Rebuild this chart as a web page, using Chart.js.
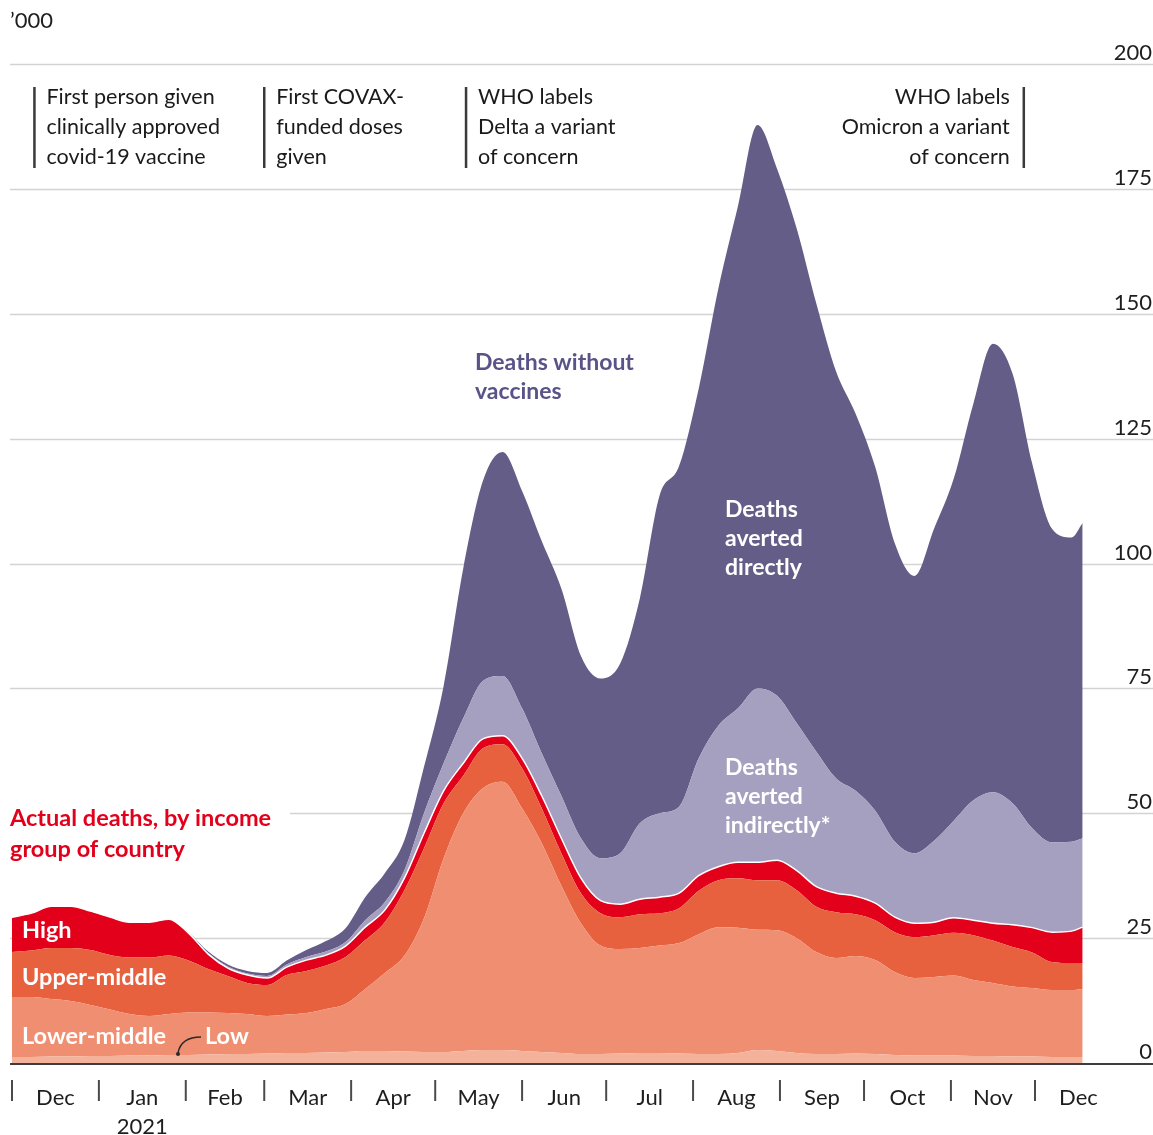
<!DOCTYPE html>
<html>
<head>
<meta charset="utf-8">
<script src="https://cdn.jsdelivr.net/npm/chart.js@4.4.0/dist/chart.umd.min.js"></script>
<style>
  html, body { margin: 0; padding: 0; background: #fff; }
  #wrap { width: 1153px; height: 1135px; }
</style>
</head>
<body>
<div id="wrap"><canvas id="chart" width="1153" height="1135"></canvas></div>
<script>
// weekly readings, days counted from 1 Dec 2020, values in '000 deaths
const days = [0,7,14,21,28,35,42,49,56,63,70,77,84,91,98,105,112,119,126,133,140,147,154,161,168,175,182,189,196,203,210,217,224,231,238,245,252,259,266,273,280,287,294,301,308,315,322,329,336,343,350,357,364,371,378,382];

const low = [1.2,1.2,1.3,1.3,1.4,1.4,1.5,1.5,1.6,1.6,1.7,1.8,1.8,1.9,2.0,2.0,2.1,2.2,2.4,2.4,2.3,2.2,2.2,2.4,2.6,2.6,2.4,2.2,2.0,1.8,1.8,1.9,2.0,2.0,1.9,1.8,1.8,2.0,2.6,2.4,2.0,1.8,1.8,1.9,1.8,1.6,1.5,1.5,1.5,1.4,1.4,1.3,1.3,1.2,1.2,1.2];
const lowerMiddle = [12.0,12.0,11.5,11.1,10.2,9.3,8.3,7.9,8.2,8.5,8.4,8.2,8.0,7.5,7.7,8.0,8.7,9.6,12.4,15.6,19.2,26.8,38.8,47.6,52.4,53.7,48.6,41.8,33.5,26.2,21.7,20.9,21.0,21.5,22.1,24.0,25.4,25.1,24.1,24.2,23.0,20.4,19.2,19.5,18.8,16.6,15.5,15.7,16.0,15.2,14.6,14.0,13.7,13.4,13.4,13.6];
const upperMiddle = [9.0,9.3,10.2,10.6,11.0,10.9,11.3,11.7,11.7,10.4,8.7,7.4,6.2,6.2,7.9,8.4,8.7,9.4,9.8,10.2,13.1,14.0,11.0,7.5,8.0,7.5,8.0,7.0,6.5,6.0,6.5,6.4,6.8,6.5,7.0,8.7,9.4,9.9,9.9,10.0,9.6,9.1,9.2,8.4,8.0,8.0,8.2,8.4,8.6,9.0,8.5,7.9,7.1,5.6,5.4,5.2];
const high = [7.0,7.5,8.4,8.4,7.8,7.6,7.1,7.1,7.3,5.5,3.0,1.6,1.6,1.4,1.6,2.2,2.1,2.2,2.6,2.4,2.4,3.0,2.5,2.5,1.9,1.7,2.0,2.5,3.0,3.0,2.5,2.6,3.0,3.2,3.0,3.0,2.7,3.2,3.6,4.0,3.9,4.0,3.8,3.6,3.4,3.0,2.8,2.6,3.0,3.0,3.5,4.5,5.0,6.0,6.4,7.2];
const avertedIndirectly = [0,0,0,0,0,0,0,0,0,0.1,0.2,0.3,0.3,0.4,0.5,0.6,0.7,0.8,1.4,1.6,1.6,4.0,5.5,9.0,11.6,12.0,10.0,8.5,8.5,8.0,8.5,10.2,15.2,16.8,17.3,23.5,28.2,30.8,34.8,32.9,29.5,27.0,23.0,21.1,18.5,15.1,14.0,16.3,19.4,24.0,26.2,24.3,19.9,18.0,17.9,17.8];
const avertedDirectly = [0,0,0,0,0,0,0,0,0,0.1,0.3,0.4,0.5,0.6,0.8,1.4,2.1,2.8,4.6,5.8,6.0,9.3,15.5,30,40,44.8,43.5,42.5,41.5,36.5,36,38,45,63.5,68.2,74,87.5,100.5,112.8,105.5,99,89.7,81.5,75.5,68.8,59.7,55.5,62.5,68.5,79.4,89.8,86,73,62.8,60.9,63.1];

const yTicks = [0,25,50,75,100,125,150,175,200];
const monthStarts = [0,31,62,90,121,151,182,212,243,274,304,335,365,396];
const monthLabels = ['Dec','Jan','Feb','Mar','Apr','May','Jun','Jul','Aug','Sep','Oct','Nov','Dec'];

const eventDays = [8, 90, 162, 361];
const eventText = [
  ['First person given', 'clinically approved', 'covid-19 vaccine'],
  ['First COVAX-', 'funded doses', 'given'],
  ['WHO labels', 'Delta a variant', 'of concern'],
  ['WHO labels', 'Omicron a variant', 'of concern']
];
const eventAlign = ['left', 'left', 'left', 'right'];

const FONT = 'Lato, "Open Sans", sans-serif';

function layer(label, values, color, fill) {
  return {
    label: label,
    data: days.map((d, i) => ({ x: d, y: values[i] })),
    backgroundColor: color,
    borderColor: color,
    borderWidth: 0,
    fill: fill,
    pointRadius: 0,
    cubicInterpolationMode: 'monotone'
  };
}

const datasets = [
  layer('Low', low, '#f5b29b', 'origin'),
  layer('Lower-middle', lowerMiddle, '#f08e71', '-1'),
  layer('Upper-middle', upperMiddle, '#e8613f', '-1'),
  layer('High', high, '#e2001a', '-1'),
  layer('Deaths averted indirectly', avertedIndirectly, '#a5a0bf', '-1'),
  layer('Deaths averted directly', avertedDirectly, '#645d87', '-1')
];
// thin white line on top of actual deaths
datasets[3].borderColor = '#ffffff';
datasets[3].borderWidth = 1.5;

function textLines(ctx, lines, x, y0, step) {
  lines.forEach((t, i) => ctx.fillText(t, x, y0 + i * step));
}

const decor = {
  id: 'decor',
  beforeDatasetsDraw(chart) {
    const { ctx, scales: { y }, chartArea } = chart;
    ctx.save();
    ctx.strokeStyle = '#d3d3d3';
    ctx.lineWidth = 1.5;
    yTicks.forEach(v => {
      if (v === 0) return;
      const py = Math.round(y.getPixelForValue(v)) + 0.5;
      ctx.beginPath();
      ctx.moveTo(v === 50 ? 290 : chartArea.left, py);
      ctx.lineTo(chartArea.right, py);
      ctx.stroke();
    });
    ctx.restore();
  },
  afterDatasetsDraw(chart) {
    const { ctx, scales: { x, y }, chartArea } = chart;
    ctx.save();

    // y tick labels, right aligned above each line
    ctx.fillStyle = '#1e1e1e';
    ctx.font = '22px ' + FONT;
    ctx.textAlign = 'right';
    ctx.textBaseline = 'alphabetic';
    yTicks.forEach(v => ctx.fillText(String(v), chartArea.right - 1, y.getPixelForValue(v) - 4));

    // zero line
    const y0 = y.getPixelForValue(0);
    ctx.strokeStyle = '#3d3d3d';
    ctx.lineWidth = 2;
    ctx.beginPath();
    ctx.moveTo(chartArea.left, y0 + 1);
    ctx.lineTo(chartArea.right, y0 + 1);
    ctx.stroke();

    // month ticks and labels
    ctx.strokeStyle = '#4a4a4a';
    ctx.lineWidth = 2;
    for (let i = 0; i < monthStarts.length - 1; i++) {
      const px = x.getPixelForValue(monthStarts[i]);
      ctx.beginPath();
      ctx.moveTo(px, y0 + 17);
      ctx.lineTo(px, y0 + 38);
      ctx.stroke();
    }
    ctx.fillStyle = '#1e1e1e';
    ctx.font = '22px ' + FONT;
    ctx.textAlign = 'center';
    ctx.textBaseline = 'middle';
    monthLabels.forEach((m, i) => {
      const px = x.getPixelForValue((monthStarts[i] + monthStarts[i + 1]) / 2);
      ctx.fillText(m, px, y0 + 35);
      if (i === 1) ctx.fillText('2021', px, y0 + 64);
    });

    // '000 unit
    ctx.textAlign = 'left';
    ctx.fillText('\u2019000', 10, 21);

    // event annotations
    ctx.font = '21.5px ' + FONT;
    ctx.fillStyle = '#1a1a1a';
    eventDays.forEach((d, i) => {
      const px = x.getPixelForValue(d);
      ctx.strokeStyle = '#3a3a3a';
      ctx.lineWidth = 2.5;
      ctx.beginPath();
      ctx.moveTo(px, 87);
      ctx.lineTo(px, 168);
      ctx.stroke();
      ctx.textAlign = eventAlign[i];
      const tx = eventAlign[i] === 'left' ? px + 12 : px - 14;
      textLines(ctx, eventText[i], tx, 97, 30);
    });

    // series labels
    ctx.textAlign = 'left';
    ctx.font = 'bold 23px ' + FONT;
    ctx.fillStyle = '#5a5388';
    textLines(ctx, ['Deaths without', 'vaccines'], 475, 363, 29);

    ctx.fillStyle = '#ffffff';
    textLines(ctx, ['Deaths', 'averted', 'directly'], 725, 510, 29);
    textLines(ctx, ['Deaths', 'averted', 'indirectly*'], 725, 768, 29);

    ctx.font = 'bold 23.5px ' + FONT;
    ctx.fillStyle = '#e3001b';
    textLines(ctx, ['Actual deaths, by income', 'group of country'], 10, 818, 31);

    ctx.font = 'bold 23.5px ' + FONT;
    ctx.fillStyle = '#ffffff';
    ctx.fillText('High', 22, 930);
    ctx.fillText('Upper-middle', 22, 977);
    ctx.fillText('Lower-middle', 22, 1036);
    ctx.fillText('Low', 205, 1036);

    // leader from "Low" label down to the low band
    ctx.strokeStyle = '#2a2a2a';
    ctx.lineWidth = 1.5;
    ctx.beginPath();
    ctx.moveTo(178, 1053);
    ctx.quadraticCurveTo(181, 1037, 201, 1037);
    ctx.stroke();
    ctx.fillStyle = '#2a2a2a';
    ctx.beginPath();
    ctx.arc(178, 1054, 2, 0, Math.PI * 2);
    ctx.fill();

    ctx.restore();
  }
};

new Chart(document.getElementById('chart').getContext('2d'), {
  type: 'line',
  data: { datasets: datasets },
  options: {
    responsive: false,
    animation: false,
    devicePixelRatio: 1,
    layout: { padding: { left: 10, right: 0, top: 64, bottom: 72 } },
    plugins: { legend: { display: false }, tooltip: { enabled: false } },
    scales: {
      x: { type: 'linear', min: -0.714, max: 407.1, display: false },
      y: { stacked: true, min: 0, max: 200, display: false }
    }
  },
  plugins: [decor]
});
</script>
</body>
</html>
